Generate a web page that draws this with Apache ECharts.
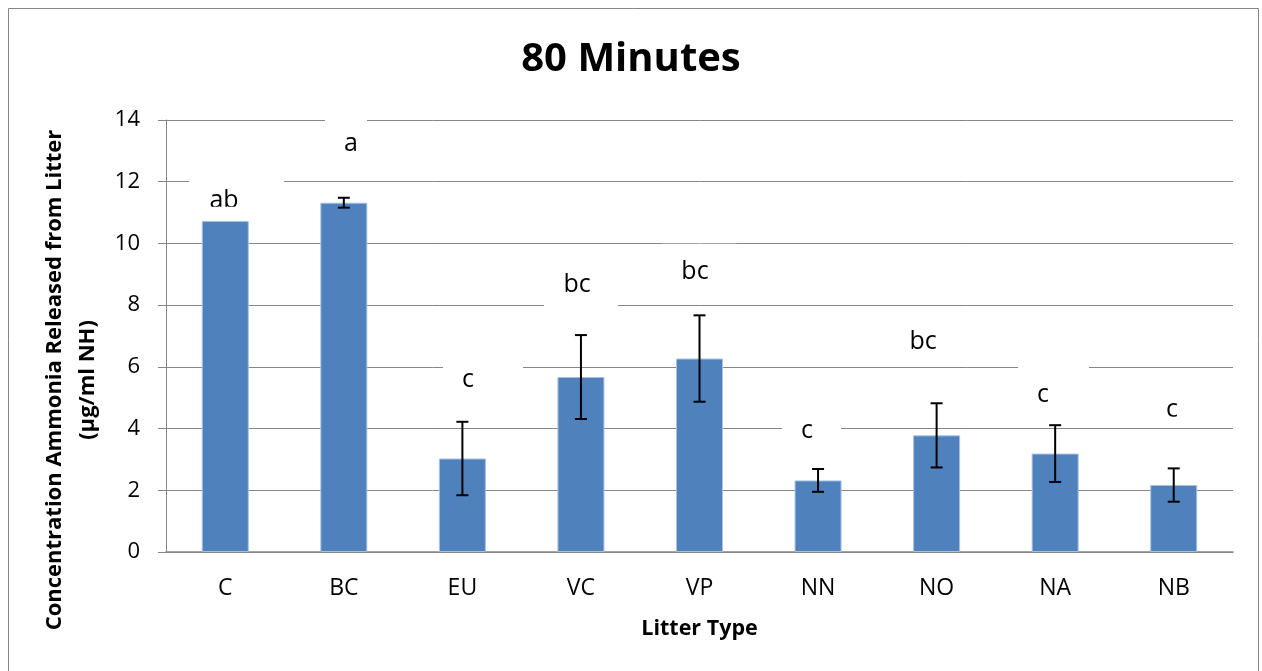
<!DOCTYPE html>
<html>
<head>
<meta charset="utf-8">
<title>80 Minutes</title>
<script src="https://cdn.jsdelivr.net/npm/echarts@6/dist/echarts.min.js"></script>
<style>
  html, body { margin: 0; padding: 0; background: #fff; }
  #chart { width: 1262px; height: 671px; }
</style>
</head>
<body>
<div id="chart"></div>
<script>
// Litter types on the category axis
const categories = ['C', 'BC', 'EU', 'VC', 'VP', 'NN', 'NO', 'NA', 'NB'];
// Mean ammonia concentration released (µg/ml NH)
const means = [10.73, 11.32, 3.03, 5.67, 6.27, 2.32, 3.78, 3.19, 2.17];
// Error bar half-lengths (C has none)
const errors = [null, 0.16, 1.19, 1.36, 1.40, 0.37, 1.04, 0.92, 0.54];
// Significance letters and the value level each one sits at
const letters = ['ab', 'a', 'c', 'bc', 'bc', 'c', 'bc', 'c', 'c'];
const letterLevels = [11.38, 13.22, 5.57, 8.65, 9.09, 3.92, 6.81, 5.09, 4.61];
// Y axis range
const yMin = 0, yMax = 14, yStep = 2;

// Letter text boxes: horizontal shift from the bar centre, and white box extents [left, right, up, down]
const letterShift = [-1.3, 7.2, 5.6, -3.9, -4.5, -11.1, -13.6, -12.2, -1.7];
const letterBox = [
  [35, 60, 24, 6], [26, 16, 26, 17], [25, 55, 14, 15], [33, 41, 19, 23], [33, 42, 28, 20],
  [25, 34, 15, 15], [33, 41, 20, 20], [25, 46, 29, 15], [25, 34, 15, 7]
];

const FONT = '"Open Sans", "Noto Sans", sans-serif';
const GRID_GRAY = '#868686';

const chart = echarts.init(document.getElementById('chart'), null, { renderer: 'canvas' });

chart.setOption({
  animation: false,
  backgroundColor: '#fff',
  title: {
    text: '80 Minutes',
    left: 'center',
    top: 35,
    padding: [5, 0, 5, 16],
    textStyle: { fontFamily: FONT, fontSize: 40, fontWeight: 'bold', color: '#000' }
  },
  graphic: [{
    type: 'rect',
    shape: { x: 8.5, y: 8.5, width: 1250, height: 700 },
    style: { fill: 'none', stroke: GRID_GRAY, lineWidth: 1 },
    silent: true
  }],
  grid: { left: 166, right: 29, top: 120, bottom: 119, containLabel: false },
  xAxis: {
    type: 'category',
    data: categories,
    axisTick: { show: false },
    axisLine: { show: true, lineStyle: { color: GRID_GRAY, width: 1.5 } },
    axisLabel: { color: '#000', fontFamily: FONT, fontSize: 23, margin: 25 },
    name: 'Litter Type',
    nameLocation: 'middle',
    nameGap: 66,
    nameTextStyle: { color: '#000', fontFamily: FONT, fontSize: 21.5, fontWeight: 'bold' }
  },
  yAxis: {
    type: 'value',
    min: yMin,
    max: yMax,
    interval: yStep,
    axisLine: { show: true, lineStyle: { color: GRID_GRAY, width: 1 } },
    axisTick: { show: true, length: 8, lineStyle: { color: GRID_GRAY } },
    axisLabel: { color: '#000', fontFamily: FONT, fontSize: 22, margin: 26 },
    splitLine: { show: true, lineStyle: { color: GRID_GRAY, width: 1 } },
    name: 'Concentration Ammonia Released from Litter\n(µg/ml NH)',
    nameLocation: 'middle',
    nameRotate: 90,
    nameGap: 54,
    nameTextStyle: {
      color: '#000', fontFamily: FONT, fontSize: 22, fontWeight: 'bold',
      lineHeight: 33, align: 'center', padding: [0, 88, 0, 0]
    }
  },
  series: [
    {
      type: 'bar',
      data: means,
      barWidth: 47,
      itemStyle: { color: '#4F81BD', borderColor: '#a9c1e0', borderWidth: 1 },
      z: 2
    },
    {
      // error bars: vertical whisker with caps
      type: 'custom',
      data: categories.map((c, i) => [i, means[i], errors[i]]),
      z: 3,
      renderItem: function (params, api) {
        const i = params.dataIndex;
        const e = errors[i];
        if (e == null) return null;
        const top = api.coord([i, means[i] + e]);
        const bot = api.coord([i, means[i] - e]);
        const half = 6;
        const st = { stroke: '#000', lineWidth: 2 };
        return {
          type: 'group',
          children: [
            { type: 'line', shape: { x1: top[0], y1: top[1], x2: bot[0], y2: bot[1] }, style: st },
            { type: 'line', shape: { x1: top[0] - half, y1: top[1], x2: top[0] + half, y2: top[1] }, style: st },
            { type: 'line', shape: { x1: bot[0] - half, y1: bot[1], x2: bot[0] + half, y2: bot[1] }, style: st }
          ]
        };
      }
    },
    {
      // significance letters in white text boxes
      type: 'custom',
      data: categories.map((c, i) => [i, letterLevels[i]]),
      z: 4,
      renderItem: function (params, api) {
        const i = params.dataIndex;
        const p = api.coord([i, letterLevels[i]]);
        const cx = p[0] + letterShift[i];
        const cy = p[1];
        const b = letterBox[i];
        const box = { x: cx - b[0], y: cy - b[2], width: b[0] + b[1], height: b[2] + b[3] };
        return {
          type: 'group',
          clipPath: { type: 'rect', shape: box },
          children: [
            { type: 'rect', shape: box, style: { fill: '#fff' } },
            {
              type: 'text', x: cx, y: cy,
              style: {
                text: letters[i], fill: '#000', fontFamily: FONT, fontSize: 25,
                textAlign: 'center', textVerticalAlign: 'middle'
              }
            }
          ]
        };
      }
    }
  ]
});
</script>
</body>
</html>
